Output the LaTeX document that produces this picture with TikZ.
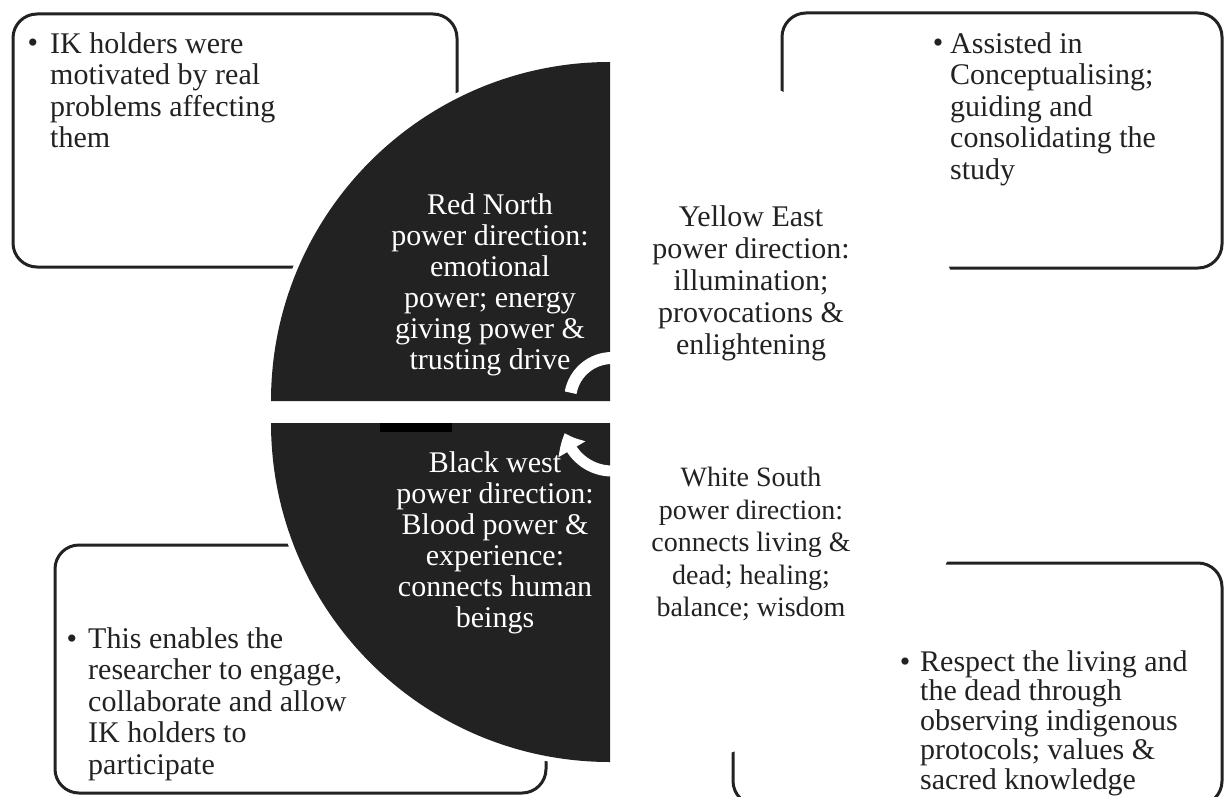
\documentclass[tikz,border=0pt]{standalone}
\usepackage{fontspec}
\setmainfont{Liberation Serif}
\usetikzlibrary{arrows.meta,bending}
\definecolor{ink}{HTML}{222222}
\begin{document}
\begin{tikzpicture}[x=1pt,y=-1pt,
  box/.style={draw=ink,line width=3pt,rounded corners=24pt},
  btext/.style={anchor=north west,inner sep=0pt,align=left,text=ink,font=\fontsize{30}{31.5}\selectfont},
  bul/.style={anchor=base,inner sep=0pt,text=ink,font=\fontsize{30}{31.5}\selectfont},
  ctext/.style={anchor=north,inner sep=0pt,align=center,font=\fontsize{30}{31}\selectfont},
  stext/.style={anchor=north,inner sep=0pt,align=center,text=ink,font=\fontsize{28}{32.5}\selectfont},
  halo/.style={draw=white,line width=10pt},
  cyc/.style={draw=white,line width=11pt}]
\useasboundingbox (0,0) rectangle (1225,797);
\clip (0,0) rectangle (1225,797);
% boxes
\draw[box] (13,14) rectangle (457,267);
\draw[box] (782,13) rectangle (1222,268);
\draw[box] (55,545) rectangle (546,793);
\draw[box] (733,563) rectangle (1222,805);
% right white quadrants (hide box edges)
\fill[white] (632,401) -- (632,57) arc[start angle=270,end angle=360,radius=344] -- cycle;
\fill[white] (632,423) -- (976,423) arc[start angle=0,end angle=90,radius=344] -- cycle;
% dark left quadrants with white halo
\draw[halo] (610,62) arc[start angle=270,end angle=180,radius=339];
\draw[halo] (271,423) arc[start angle=180,end angle=90,radius=339];
\fill[ink] (610,401) -- (610,62) arc[start angle=270,end angle=180,radius=339] -- cycle;
\fill[ink] (610,423) -- (271,423) arc[start angle=180,end angle=90,radius=339] -- cycle;
\fill[black] (380,423) rectangle (452,432);
% cycle arrows
\draw[cyc,line width=12pt] (612,358) arc[start angle=270,end angle=190,radius=42];
\draw[cyc,-{Triangle[width=30pt,length=18pt,bend]}] (612,471) arc[start angle=90,end angle=168,radius=48];
% box texts
\node[bul] (b1) at (33,53) {•};
\node[btext] (t1) at (50,32) {IK holders were\\motivated by real\\problems affecting\\them};
\node[bul] (b2) at (938,53) {•};
\node[btext] (t2) at (950,32) {Assisted in\\Conceptualising;\\guiding and\\consolidating the\\study};
\node[bul] (b3) at (72,648) {•};
\node[btext] (t3) at (88,627) {This enables the\\researcher to engage,\\collaborate and allow\\IK holders to\\participate};
\node[bul] (b4) at (905,671) {•};
\node[btext,font=\fontsize{30}{29.5}\selectfont] (t4) at (920,650) {Respect the living and\\the dead through\\observing indigenous\\protocols; values \&\\sacred knowledge};
% direction texts
\node[ctext,text=white] (north) at (490,193) {Red North\\power direction:\\emotional\\power; energy\\giving power \&\\trusting drive};
\node[ctext,text=white] (west) at (495,451) {Black west\\power direction:\\Blood power \&\\experience:\\connects human\\beings};
\node[ctext,text=ink,font=\fontsize{30}{32}\selectfont] (east) at (751,205) {Yellow East\\power direction:\\illumination;\\provocations \&\\enlightening};
\node[stext] (south) at (751,467) {White South\\power direction:\\connects living \&\\dead; healing;\\balance; wisdom};
\end{tikzpicture}
\end{document}
